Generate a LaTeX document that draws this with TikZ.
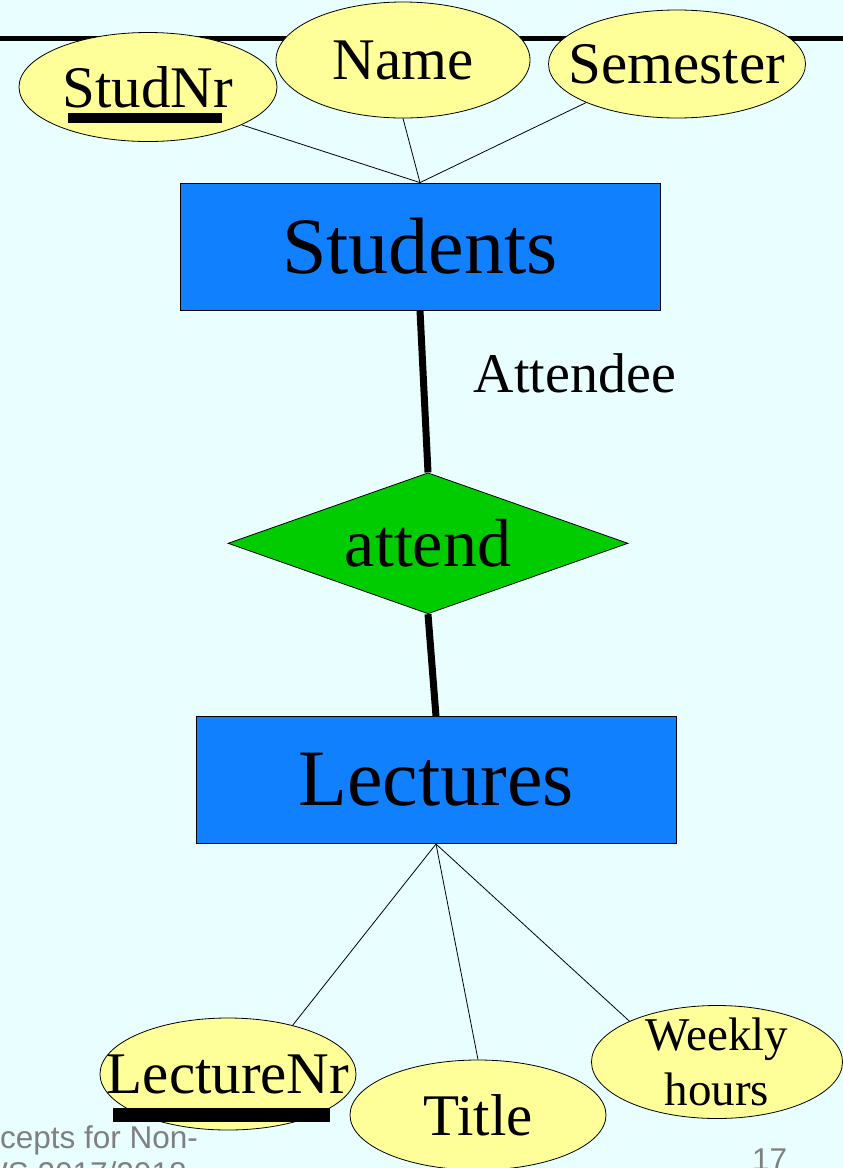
\documentclass[tikz,border=0pt]{standalone}
\usepackage{fontspec}
\setmainfont{Liberation Serif}
\newfontfamily\footfont{Liberation Sans}
\usepackage{tikz}
\usetikzlibrary{shapes.geometric, positioning}
\definecolor{slidebg}{RGB}{233,255,255}
\definecolor{attryellow}{RGB}{255,255,153}
\definecolor{entityblue}{RGB}{17,128,255}
\definecolor{relgreen}{RGB}{0,204,0}
\definecolor{footgray}{RGB}{128,128,128}
\newcommand{\attrfont}{\fontsize{59}{62}\selectfont}
\newcommand{\weeklyfont}{\fontsize{47}{55}\selectfont}
\tikzstyle{attr} = [ellipse, draw=black, fill=attryellow, inner sep=0pt, line width=0.8pt]
\tikzstyle{entity} = [rectangle, draw=black, fill=entityblue, minimum width=480pt, minimum height=127pt, line width=0.8pt, font=\fontsize{80}{90}\selectfont]
\tikzstyle{relation} = [diamond, draw=black, fill=relgreen, aspect=2.84, minimum width=400pt, minimum height=141pt, inner sep=0pt, line width=0.8pt, font=\fontsize{68}{72}\selectfont]
\tikzstyle{link} = [line width=7pt]
\tikzstyle{attrline} = [line width=0.8pt]
\tikzstyle{footer} = [inner sep=0pt, text=footgray, font=\footfont\fontsize{31.5}{34}\selectfont]

\begin{document}
\begin{tikzpicture}[x=1pt, y=-1pt, every label/.style={font=\attrfont}]
		\useasboundingbox (0,0) rectangle (843,1168);
		\clip (0,0) rectangle (843,1168);
		\fill [slidebg] (0,0) rectangle (843,1168);
		\draw [line width=5pt] (0,38) -- (843,38);
		% entities and relationship
		\node (students) [entity] at (420,246.5) {Students};
		\node (attend) [relation, below=162pt of students, xshift=8pt] {attend};
		\node (lectures) [entity, below=102pt of attend, xshift=8pt] {Lectures};
		\node (attendee) [font=\fontsize{56}{60}\selectfont] at (575,373) {Attendee};
		\draw [link] (students.south) -- (attend.north);
		\draw [link] (attend.south) -- (lectures.north);
		% attributes
		\node (studnr) [attr, minimum width=258pt, minimum height=109pt, label=center:StudNr] at (148,87) {};
		\node (name) [attr, minimum width=254pt, minimum height=116pt, label=center:Name] at (403,60) {};
		\node (semester) [attr, minimum width=257pt, minimum height=108pt, label=center:Semester] at (677,64) {};
		\node (lecturenr) [attr, minimum width=256pt, minimum height=112pt, label=center:LectureNr] at (228,1074) {};
		\node (title) [attr, minimum width=256pt, minimum height=110pt, label=center:Title] at (478,1115) {};
		\node (weekly) [attr, minimum width=251pt, minimum height=113pt, label={[align=center, font=\weeklyfont]center:Weekly\\hours}] at (717,1062) {};
		\fill (68,113) rectangle (222,123);
		\fill (113,1108) rectangle (330,1122);
		\draw [attrline] (studnr.-22) -- (students.north);
		\draw [attrline] (name.south) -- (students.north);
		\draw [attrline] (semester.203) -- (students.north);
		\draw [attrline] (lectures.south) -- (lecturenr.37);
		\draw [attrline] (lectures.south) -- (title.north);
		\draw [attrline] (lectures.south) -- (weekly.155);
		% footer
		\node (footleft) [footer, anchor=base west] at (0,1148) {cepts for Non-};
		\node (footdate) [footer, anchor=base west] at (-22,1184) {WS 2017/2018};
		\node (pagenr) [footer, anchor=base west] at (752,1170) {17};
		\end{tikzpicture}
\end{document}
